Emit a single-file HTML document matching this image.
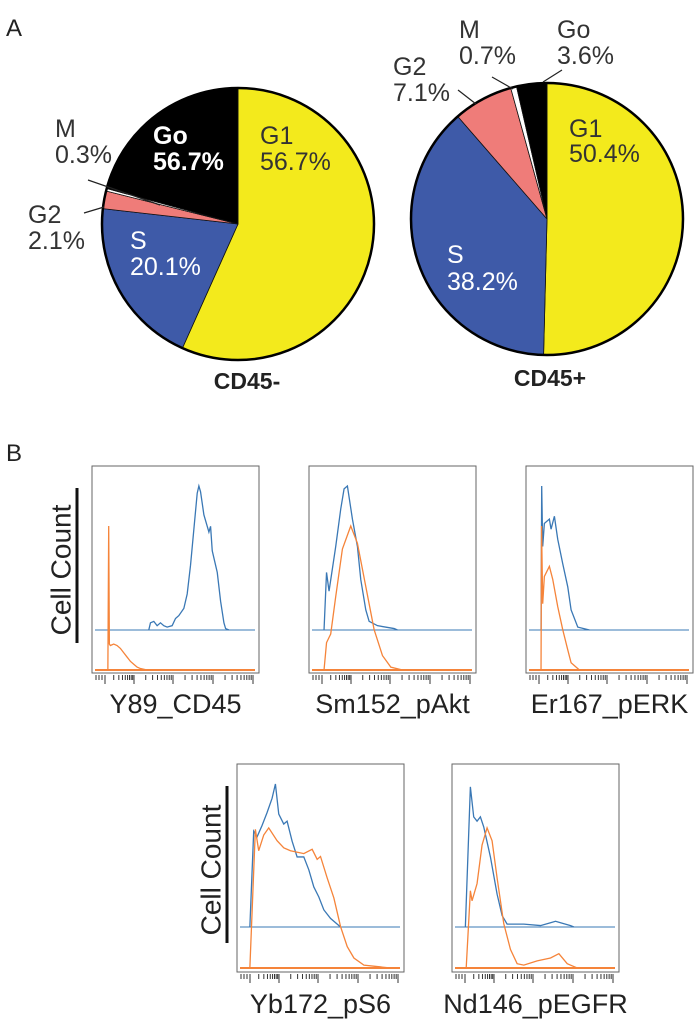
<!DOCTYPE html>
<html><head><meta charset="utf-8"><style>
body{margin:0;background:#fff;}
svg{display:block;font-family:"Liberation Sans",sans-serif;}
</style></head><body>
<svg id="fig" width="700" height="1023" viewBox="0 0 700 1023">
<text x="6" y="36" font-size="24" fill="#222">A</text>
<text x="6" y="461" font-size="24" fill="#222">B</text>
<g id="pies"></g>
<g id="hists"></g>
</svg>
<script>
// ---- Pie data ----
const phases = ["G1","S","G2","M","Go"];
const cd45negValues = [56.7, 20.1, 2.1, 0.3, 20.8];
const cd45posValues = [50.4, 38.2, 7.1, 0.7, 3.6];
const cd45negPrinted = ["56.7%","20.1%","2.1%","0.3%","56.7%"];
const cd45posPrinted = ["50.4%","38.2%","7.1%","0.7%","3.6%"];
const phaseColors = ["#f3ea1c","#3e5aa8","#ef7c79","#ffffff","#000000"];

// ---- Histogram data (x: 0-100 intensity axis, y: 0-100 relative count) ----
const cd45BlueX = [34,35,37,39,41,43,45,48,50,52,55,57,59,61,63,64,65,67,69,70,71,72,74,75,77,79,80,82];
const cd45BlueY = [0,5,6,3,5,3,2,3,8,10,15,25,45,70,95,100,96,80,72,68,72,55,45,40,20,5,1,0];
const cd45OrangeX = [9.5,10,10.4,11,13,15,17,19,21,23,25,27,29,31,33];
const cd45OrangeY = [0,100,18,17,18,17,15,12,9,6,4,2,1,0.5,0];
const aktBlueX = [9,10.5,12,16,19,21,23,26,29,31,34,36,41,51,53];
const aktBlueY = [0,40,27,58,84,98,100,77,58,35,14,6,3,1,0];
const aktOrangeX = [9,10.5,13,16,20,25,29,34,39,44,49,56];
const aktOrangeY = [0,19,25,51,84,100,88,58,28,10,2,0];
const erkBlueX = [9,9.4,10,11,14,15,17,19,22,25,27,31,38];
const erkBlueY = [0,100,58,74,77,70,79,63,46,30,14,2,0];
const erkOrangeX = [9,9.3,10,11,14,16,19,22,25,27,32];
const erkOrangeY = [0,100,46,65,72,63,44,28,14,5,0];
const s6BlueX = [7.7,10,12,15,18,21,23,25,28,30,33,36,40,43,46,49,52,56,60,62];
const s6BlueY = [0,67,63,71,80,90,100,79,72,74,60,49,49,40,28,21,12,6,2,0];
const s6OrangeX = [7.7,11,13,16,19,24,28,32,40,45,48,50,54,58,62,66,70,76,84,92];
const s6OrangeY = [0,97,82,93,98,89,84,82,80,83,76,78,63,49,29,15,7,2,1,0];
const egfrBlueX = [8,11,13,15,17,19,23,27,30,33,43,53,59,62,65,71,73];
const egfrBlueY = [0,98,77,74,77,70,49,23,8,2,2,1,3,4,3,1,0];
const egfrOrangeX = [8.5,11,12,15,18,21,24,27,31,35,39,43,51,59,64,69,73,75];
const egfrOrangeY = [0,54,47,59,86,98,89,63,31,13,3,2,5,7,10,3,1,0];
const histLabels = ["Y89_CD45","Sm152_pAkt","Er167_pERK","Yb172_pS6","Nd146_pEGFR"];

const NS="http://www.w3.org/2000/svg";
function mk(tag, attrs, parent){const e=document.createElementNS(NS,tag);for(const k in attrs)e.setAttribute(k,attrs[k]);parent.appendChild(e);return e;}

// ---- Pies ----
const pies=document.getElementById('pies');
function drawPie(cx,cy,r,values,printed,title,tx,ty,labelSpec,key){
  const g=mk('g',{},pies);
  
  
  const total=values.reduce((a,b)=>a+b,0);
  let a0=0;
  values.forEach((v,i)=>{
    const a1=a0+v/total*2*Math.PI;
    const x0=cx+r*Math.sin(a0),y0=cy-r*Math.cos(a0),x1=cx+r*Math.sin(a1),y1=cy-r*Math.cos(a1);
    const large=(a1-a0)>Math.PI?1:0;
    const p=mk('path',{d:`M${cx},${cy} L${x0},${y0} A${r},${r} 0 ${large} 1 ${x1},${y1} Z`,fill:phaseColors[i],stroke:"#111","stroke-width":0.8},g);
    
    
    a0=a1;
  });
  mk('circle',{cx:cx,cy:cy,r:r,fill:"none",stroke:"#000","stroke-width":2.5},g);
  const t=mk('text',{x:tx,y:ty,"font-size":23,"font-weight":"bold","text-anchor":"middle",fill:"#222"},g);
  t.textContent=title;
  
  
  labelSpec.forEach(s=>{
    const i=s.i;
    const lt=mk('text',{x:s.x,y:s.y,"font-size":s.fs||25,fill:s.c,"font-weight":s.b?"bold":"normal"},g);
    
    
    const s1=mk('tspan',{x:s.x},lt);s1.textContent=phases[i];
    const s2=mk('tspan',{x:s.x,dy:s.dy||26},lt);s2.textContent=printed[i];
    if(s.line){const ln=mk('line',{x1:s.line[0],y1:s.line[1],x2:s.line[2],y2:s.line[3],stroke:"#222","stroke-width":1.2},g);
      
      }
  });
}
drawPie(238,224,136,cd45negValues,cd45negPrinted,"CD45-",247,389,[
  {i:0,x:260,y:144,c:"#333"},
  {i:4,x:153,y:144,c:"#fff",b:true},
  {i:1,x:130,y:249,c:"#fff"},
  {i:3,x:55,y:137,c:"#333",line:[88,180,160,205]},
  {i:2,x:28,y:223,c:"#333",line:[84,213,104,207]}
],"cd45neg");
drawPie(547,219,136,cd45posValues,cd45posPrinted,"CD45+",550,386,[
  {i:0,x:569,y:137,c:"#333",dy:25},
  {i:1,x:447,y:263,c:"#fff",dy:27},
  {i:2,x:393,y:75,c:"#333",line:[458,90,476,104]},
  {i:3,x:459,y:38,c:"#333",line:[492,77,513,89]},
  {i:4,x:557,y:38,c:"#333",line:[562,70,543,82]}
],"cd45pos");

// ---- Histograms ----
const hists=document.getElementById('hists');
const panels=[
 {x:92,y:466,w:167,h:207,bb:630,ob:670,sc:1.44,bx:cd45BlueX,by:cd45BlueY,ox:cd45OrangeX,oy:cd45OrangeY,ly:713},
 {x:309,y:466,w:167,h:207,bb:630,ob:670,sc:1.44,bx:aktBlueX,by:aktBlueY,ox:aktOrangeX,oy:aktOrangeY,ly:713},
 {x:526,y:466,w:167,h:207,bb:630,ob:670,sc:1.44,bx:erkBlueX,by:erkBlueY,ox:erkOrangeX,oy:erkOrangeY,ly:713},
 {x:237,y:764,w:167,h:208,bb:927,ob:968,sc:1.43,bx:s6BlueX,by:s6BlueY,ox:s6OrangeX,oy:s6OrangeY,ly:1013},
 {x:452,y:764,w:167,h:208,bb:927,ob:968,sc:1.43,bx:egfrBlueX,by:egfrBlueY,ox:egfrOrangeX,oy:egfrOrangeY,ly:1013}
];
panels.forEach((p,pi)=>{
  const g=mk('g',{},hists);
  
  
  const xs=v=>p.x+v/100*p.w;
  const ysB=v=>p.bb-v*p.sc, ysO=v=>p.ob-v*p.sc;
  const box=mk('rect',{x:p.x,y:p.y,width:p.w,height:p.h,fill:"none",stroke:"#666","stroke-width":1},g);
  
  
  const bl=mk('line',{x1:p.x+3,x2:p.x+p.w-4,y1:p.bb,y2:p.bb,stroke:"#3a78b5","stroke-width":1},g);
  
  
  const ol=mk('line',{x1:p.x+3,x2:p.x+p.w-4,y1:p.ob,y2:p.ob,stroke:"#f5843a","stroke-width":2},g);
  
  
  const pb=mk('polyline',{points:p.bx.map((v,i)=>xs(v)+","+ysB(p.by[i])).join(" "),fill:"none",stroke:"#3a78b5","stroke-width":1.3},g);
  
  
  const po=mk('polyline',{points:p.ox.map((v,i)=>xs(v)+","+ysO(p.oy[i])).join(" "),fill:"none",stroke:"#f5843a","stroke-width":1.3},g);
  
  
  const tg=mk('g',{stroke:"#333","stroke-width":1},g);
  
  
  const ty=p.y+p.h+2;
  [4,7,10].forEach(r=>mk('line',{x1:p.x+r,x2:p.x+r,y1:ty,y2:ty+5},tg));
  const majors=[13,42,81,121,161];
  majors.forEach((m,mi)=>{
    mk('line',{x1:p.x+m,x2:p.x+m,y1:ty,y2:ty+9},tg);
    if(mi<majors.length-1){const span=majors[mi+1]-m;
      for(let k=2;k<10;k++){const xx=p.x+m+span*Math.log10(k);mk('line',{x1:xx,x2:xx,y1:ty,y2:ty+5},tg);}}
  });
  const lt=mk('text',{x:p.x+p.w/2,y:p.ly,"font-size":27,"text-anchor":"middle",fill:"#222"},g);
  lt.textContent=histLabels[pi];
  
  
});
[[77,488,643,63,570],[227,786,943,213,870]].forEach((c,i)=>{
  const ln=mk('line',{x1:c[0],x2:c[0],y1:c[1],y2:c[2],stroke:"#111","stroke-width":3},hists);
  
  
  const t=mk('text',{x:c[3],y:c[4],"font-size":28,"text-anchor":"middle",fill:"#222",transform:`rotate(-90 ${c[3]} ${c[4]})`,"dominant-baseline":"middle"},hists);
  t.textContent="Cell Count";
  
  
});
</script>
</body></html>
